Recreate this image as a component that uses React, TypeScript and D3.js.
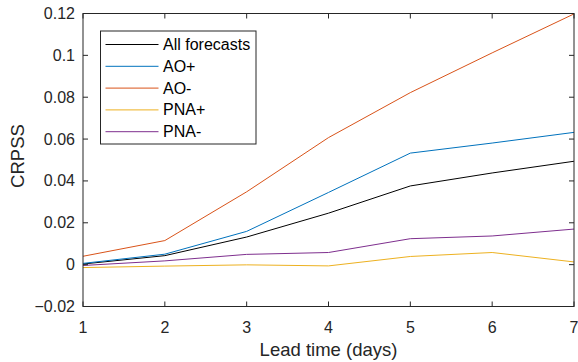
import React from "react";
import * as d3 from "d3";

const leadDays = [1, 2, 3, 4, 5, 6, 7];
const seriesNames = ["All forecasts", "AO+", "AO-", "PNA+", "PNA-"];
const allForecasts = [0.0003, 0.0043, 0.0132, 0.0246, 0.0376, 0.0438, 0.0494];
const aoPlus = [0.0006, 0.005, 0.0159, 0.0345, 0.0533, 0.0581, 0.0632];
const aoMinus = [0.004, 0.0115, 0.0348, 0.0607, 0.0822, 0.1012, 0.1198];
const pnaPlus = [-0.0014, -0.0007, -0.0001, -0.0006, 0.0039, 0.0058, 0.0013];
const pnaMinus = [-0.0004, 0.0018, 0.0049, 0.0058, 0.0124, 0.0137, 0.017];
const yTicks = [-0.02, 0, 0.02, 0.04, 0.06, 0.08, 0.1, 0.12];
const xTicks = [1, 2, 3, 4, 5, 6, 7];
const colors = ["#000000", "#0072BD", "#D95319", "#EDB120", "#7E2F8E"];

export default function App() {
  const W = 578, H = 362;
  const left = 83, right = 574, top = 13.5, bottom = 306.5;
  const x = d3.scaleLinear().domain([1, 7]).range([left, right]);
  const y = d3.scaleLinear().domain([-0.02, 0.12]).range([bottom, top]);
  const series = [allForecasts, aoPlus, aoMinus, pnaPlus, pnaMinus];
  const line = d3
    .line<number>()
    .x((_, i) => x(leadDays[i]))
    .y((d) => y(d));
  const axisColor = "#262626";
  const font = "'Liberation Sans', Arial, Helvetica, sans-serif";
  const tickLen = 5;
  const legX = 100.5, legY = 31, legW = 155.5, legH = 113;
  const rowY0 = 44.5, rowStep = 21.8;

  return (
    <svg
      width={W}
      height={H}
      style={{ position: "absolute", left: 0, top: 0, background: "#fff" }}
      fontFamily={font}
    >
      <rect x={0} y={0} width={W} height={H} fill="#fff" />
      {series.map((s, k) => (
        <path
          key={k}
          d={line(s) || ""}
          fill="none"
          stroke={colors[k]}
          strokeWidth={1}
        />
      ))}
      {/* axes box */}
      <rect
        x={left}
        y={top}
        width={right - left}
        height={bottom - top}
        fill="none"
        stroke={axisColor}
        strokeWidth={1}
      />
      {xTicks.map((t) => (
        <g key={"x" + t}>
          <line x1={x(t)} x2={x(t)} y1={bottom} y2={bottom - tickLen} stroke={axisColor} />
          <line x1={x(t)} x2={x(t)} y1={top} y2={top + tickLen} stroke={axisColor} />
          <text x={x(t)} y={333} textAnchor="middle" fontSize={16} fill={axisColor}>
            {t}
          </text>
        </g>
      ))}
      {yTicks.map((t) => (
        <g key={"y" + t}>
          <line x1={left} x2={left + tickLen} y1={y(t)} y2={y(t)} stroke={axisColor} />
          <line x1={right} x2={right - tickLen} y1={y(t)} y2={y(t)} stroke={axisColor} />
          <text
            x={75}
            y={y(t) + 5.5}
            textAnchor="end"
            fontSize={16}
            fill={axisColor}
          >
            {d3.format("")(+t.toFixed(2))}
          </text>
        </g>
      ))}
      <text x={(left + right) / 2} y={356} textAnchor="middle" fontSize={18.5} fill={axisColor}>
        Lead time (days)
      </text>
      <text
        transform={`translate(24,156) rotate(-90)`}
        textAnchor="middle"
        fontSize={18.5}
        fill={axisColor}
      >
        CRPSS
      </text>
      {/* legend */}
      <rect x={legX} y={legY} width={legW} height={legH} fill="#fff" stroke={axisColor} strokeWidth={1} />
      {seriesNames.map((n, k) => (
        <g key={n}>
          <line
            x1={105.5}
            x2={158.5}
            y1={rowY0 + k * rowStep}
            y2={rowY0 + k * rowStep}
            stroke={colors[k]}
            strokeWidth={1}
          />
          <text x={163} y={rowY0 + k * rowStep + 5.5} fontSize={16} fill="#000">
            {n}
          </text>
        </g>
      ))}
    </svg>
  );
}
